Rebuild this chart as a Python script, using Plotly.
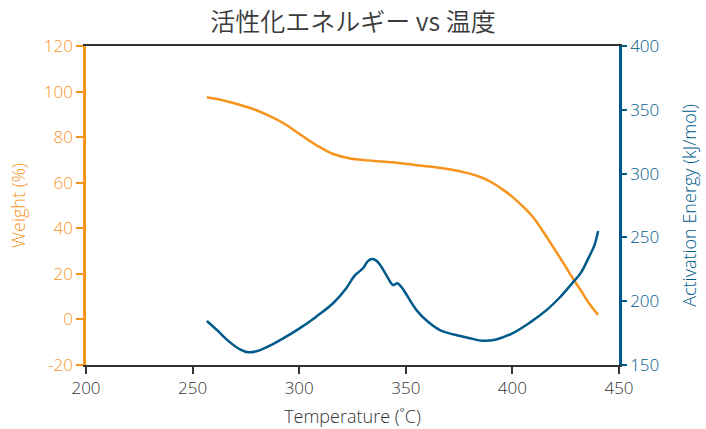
import plotly.graph_objects as go

# Thermogravimetric weight curve
temp_weight = [256.7, 265, 277, 285, 292.5, 300, 308, 316, 324, 332, 340, 348, 355, 363, 371, 379, 385, 390, 395, 400, 405, 410, 416, 420, 424, 428, 432, 436, 440.2]
weight = [97.5, 96.0, 92.8, 89.8, 86.2, 81.5, 76.5, 72.6, 70.6, 69.8, 69.2, 68.5, 67.7, 66.9, 65.8, 64.2, 62.5, 60.3, 57.3, 53.8, 49.5, 44.5, 36.3, 30.5, 24.6, 18.5, 12.9, 7.0, 2.0]

# Activation energy curve
temp_energy = [256.7, 262, 267, 272, 276, 280, 286, 292.5, 300, 308, 316, 322, 326, 328, 330, 332, 334, 336, 338, 341, 344, 346, 348, 350, 355, 360, 366, 370, 374, 380, 386, 392, 400, 408, 416, 422, 428, 432, 436, 438.5, 440.2]
energy = [184.5, 176.5, 168.5, 162.5, 160.0, 160.8, 165.0, 170.9, 178.5, 187.9, 198.6, 210.0, 220.0, 223.0, 226.0, 231.0, 233.0, 232.0, 228.4, 220.0, 212.7, 214.0, 211.0, 206.0, 193.0, 184.5, 177.4, 175.0, 173.3, 171.0, 169.0, 169.8, 174.8, 183.0, 193.0, 202.5, 214.0, 222.0, 234.9, 244.0, 255.0]

# Axis ticks
x_ticks = [200, 250, 300, 350, 400, 450]
weight_ticks = [-20, 0, 20, 40, 60, 80, 100, 120]
weight_tick_labels = ["-20", "0", "20", "40", "60", "80", "100", "120"]
energy_ticks = [150, 200, 250, 300, 350, 400]

ORANGE = "#F7941D"
BLUE = "#005A8B"
DARK = "#333333"
FONT = "'Open Sans', 'Noto Sans CJK JP', sans-serif"

fig = go.Figure()
fig.add_trace(go.Scatter(
    x=temp_weight, y=weight, mode="lines",
    line=dict(color=ORANGE, width=2.5, shape="spline", smoothing=1.0),
    yaxis="y", showlegend=False,
))
fig.add_trace(go.Scatter(
    x=temp_energy, y=energy, mode="lines",
    line=dict(color=BLUE, width=2.5, shape="spline", smoothing=1.0),
    yaxis="y2", showlegend=False,
))

fig.update_layout(
    width=706, height=429,
    margin=dict(l=86, r=87, t=46, b=64),
    paper_bgcolor="white", plot_bgcolor="white",
    font=dict(family=FONT, size=17, color=DARK),
    title=dict(text="活性化エネルギー vs 温度", x=0.5, xanchor="center",
               y=1 - 22 / 429, yanchor="middle",
               font=dict(family="'Noto Sans CJK JP', sans-serif", size=25,
                         color="#3a3a3a", weight=350)),
    xaxis=dict(
        range=[200, 450], tickvals=x_ticks, automargin=False,
        showgrid=False, zeroline=False,
        showline=True, linecolor=DARK, linewidth=2, mirror=True,
        ticks="outside", ticklen=7, tickwidth=2, tickcolor=DARK,
        title=dict(text="Temperature (˚C)", standoff=12,
                   font=dict(size=18, color=DARK, weight=300)),
        tickfont=dict(size=17, color=DARK, weight=300),
    ),
    yaxis=dict(
        range=[-20, 120], tickvals=weight_ticks, ticktext=weight_tick_labels,
        automargin=False,
        showgrid=False, zeroline=False,
        showline=True, linecolor=ORANGE, linewidth=2.5,
        ticks="outside", ticklen=7, tickwidth=2, tickcolor=ORANGE,
        title=dict(text="Weight (%)", standoff=14,
                   font=dict(size=18, color=ORANGE, weight=300)),
        tickfont=dict(size=17, color=ORANGE, weight=300),
    ),
    yaxis2=dict(
        range=[150, 400], tickvals=energy_ticks, automargin=False,
        overlaying="y", side="right",
        showgrid=False, zeroline=False,
        showline=True, linecolor=BLUE, linewidth=2.5,
        ticks="outside", ticklen=5, tickwidth=2, tickcolor=BLUE,
        title=dict(text="Activation Energy (kJ/mol)", standoff=26,
                   font=dict(size=18, color=BLUE, weight=300)),
        tickfont=dict(size=17, color=BLUE, weight=300),
    ),
)

fig.write_html("out.html")
